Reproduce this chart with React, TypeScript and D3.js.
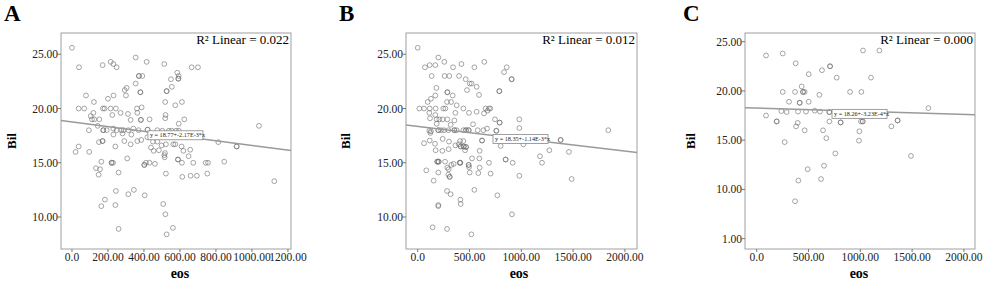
import React from "react";
import * as d3 from "d3";

// ---------- DATA ----------
const panelLetters = ["A", "B", "C"];
const xTicksA = [0, 200, 400, 600, 800, 1000, 1200];
const xTickLabelsA = ["0.0", "200.00", "400.00", "600.00", "800.00", "1000.00", "1200.00"];
const xTicksBC = [0, 500, 1000, 1500, 2000];
const xTickLabelsBC = ["0.0", "500.00", "1000.00", "1500.00", "2000.00"];
const yTicksAB = [10, 15, 20, 25];
const yTickLabelsAB = ["10.00", "15.00", "20.00", "25.00"];
const yTicksC = [5, 10, 15, 20, 25];
const yTickLabelsC = ["1.00", "10.00", "15.00", "20.00", "25.00"];
const r2Labels = ["R² Linear = 0.022", "R² Linear = 0.012", "R² Linear = 0.000"];
const intercepts = [18.77, 18.35, 18.26];
const slopes = [-2.17e-3, -1.14e-3, -3.23e-4];
const eqLabels = ["y = 18.77+-2.17E-3*x", "y = 18.35+-1.14E-3*x", "y = 18.26+-3.23E-4*x"];
const eqLabelX = [422, 727, 727];

const pointsA: [number, number][] = [
  [0, 25.6], [39, 23.8], [170, 24.0], [215, 24.3], [230, 24.1], [248, 23.8], [354, 24.7], [415, 24.3],
  [513, 24.1], [665, 23.8], [700, 23.8], [372, 23.0], [372, 23.0], [391, 23.0], [593, 23.0], [591, 22.75],
  [591, 22.75], [585, 23.3], [354, 22.3], [550, 22.7], [304, 21.9], [293, 21.7], [380, 21.5], [380, 21.5],
  [526, 21.6], [526, 21.6], [555, 22.0], [78, 21.2], [231, 21.2], [300, 21.2], [200, 20.9], [122, 20.6],
  [518, 20.6], [574, 20.3], [611, 20.6], [37, 20.0], [68, 20.0], [172, 20.0], [181, 20.0], [215, 20.0],
  [244, 20.0], [361, 20.0], [387, 20.1], [119, 19.6], [224, 19.4], [270, 19.6], [311, 19.5], [363, 19.6],
  [520, 19.4], [104, 19.3], [111, 19.0], [124, 19.0], [152, 19.0], [326, 18.95], [383, 18.95], [383, 18.95],
  [431, 19.0], [518, 19.1], [593, 18.6], [624, 19.0], [94, 18.0], [143, 18.4], [174, 18.0], [174, 18.0],
  [193, 18.0], [230, 18.15], [248, 18.0], [274, 18.0], [287, 18.0], [313, 18.0], [341, 18.15], [370, 18.0],
  [420, 18.05], [420, 18.05], [474, 18.0], [502, 17.95], [539, 17.95], [554, 17.95], [578, 17.95], [594, 17.95],
  [1039, 18.4], [230, 17.6], [281, 17.7], [291, 17.0], [330, 17.6], [363, 17.0], [385, 17.1], [419, 17.35],
  [150, 16.9], [170, 17.0], [170, 17.0], [241, 16.5], [326, 16.7], [450, 16.95], [474, 16.95], [498, 16.6],
  [522, 16.7], [563, 16.7], [574, 16.7], [609, 16.5], [37, 16.5], [20, 16.0], [96, 16.0], [439, 16.4],
  [454, 16.1], [483, 16.15], [517, 15.9], [513, 15.7], [619, 16.1], [657, 16.2], [813, 16.9], [915, 16.5],
  [915, 16.5], [163, 15.1], [220, 15.0], [220, 15.0], [228, 15.0], [307, 15.4], [402, 14.8], [402, 14.8],
  [411, 15.0], [431, 15.0], [461, 14.9], [515, 15.5], [589, 15.3], [589, 15.3], [611, 15.0], [648, 15.6],
  [674, 15.0], [743, 15.0], [756, 15.0], [846, 15.1], [133, 14.5], [156, 14.4], [148, 13.9], [259, 14.1],
  [522, 14.0], [613, 13.7], [659, 13.8], [694, 13.8], [752, 14.0], [1124, 13.3], [244, 12.4], [313, 12.1],
  [344, 12.5], [404, 12.0], [183, 11.6], [163, 11.0], [241, 11.1], [507, 11.2], [519, 10.25], [259, 8.9],
  [561, 9.0], [526, 8.4],
];

const pointsB: [number, number][] = [
  [0, 25.6], [199, 24.7], [70, 23.8], [116, 24.0], [170, 24.0], [257, 24.3], [341, 23.8], [422, 24.1],
  [547, 23.8], [643, 24.3], [833, 23.35], [859, 23.8], [907, 22.7], [907, 22.7], [135, 23.0], [260, 23.0],
  [305, 23.0], [399, 23.0], [463, 22.7], [502, 22.3], [521, 22.3], [569, 22.0], [476, 21.7], [180, 21.9],
  [170, 21.2], [286, 21.5], [286, 21.5], [338, 21.2], [788, 21.6], [788, 21.6], [592, 21.25], [128, 20.9],
  [96, 20.6], [283, 20.6], [322, 20.6], [376, 20.3], [16, 20.0], [61, 20.0], [116, 20.0], [173, 20.0],
  [247, 20.0], [267, 20.0], [441, 20.0], [656, 20.0], [688, 20.0], [701, 20.0], [112, 19.6], [170, 19.4],
  [364, 19.6], [495, 19.6], [569, 19.7], [640, 19.55], [675, 19.8], [119, 19.1], [183, 19.0], [209, 19.0],
  [241, 19.0], [286, 19.0], [354, 18.9], [746, 19.0], [791, 18.7], [791, 18.7], [981, 19.0], [183, 18.6],
  [318, 18.5], [534, 18.55], [981, 18.2], [669, 18.15], [112, 17.95], [128, 17.9], [199, 18.0], [199, 18.0],
  [225, 18.0], [254, 18.0], [296, 18.0], [354, 18.0], [354, 18.0], [376, 18.0], [441, 18.0], [466, 18.0],
  [466, 18.0], [492, 18.0], [492, 18.0], [579, 18.0], [634, 18.0], [759, 17.95], [759, 17.95], [1840, 18.0],
  [122, 17.75], [241, 17.2], [409, 17.0], [441, 17.0], [621, 17.05], [621, 17.05], [1380, 17.1], [1380, 17.1],
  [1020, 16.7], [61, 16.8], [116, 17.05], [167, 16.75], [302, 16.95], [396, 16.7], [415, 16.5], [415, 16.5],
  [444, 16.5], [444, 16.5], [466, 16.45], [466, 16.45], [173, 16.15], [238, 16.1], [299, 16.25], [364, 16.6],
  [457, 16.15], [598, 16.1], [801, 16.55], [1271, 16.15], [1460, 16.0], [83, 14.3], [189, 15.1], [189, 15.1],
  [202, 15.1], [202, 15.1], [264, 15.1], [325, 14.8], [347, 14.9], [411, 15.0], [411, 15.0], [492, 14.8],
  [492, 14.8], [495, 14.6], [154, 13.35], [199, 14.1], [286, 14.55], [299, 14.4], [405, 15.0], [524, 15.4],
  [595, 15.4], [688, 15.0], [598, 14.55], [849, 15.3], [849, 15.3], [917, 15.0], [1180, 15.6], [1200, 15.0],
  [296, 13.9], [309, 13.7], [309, 13.7], [502, 14.1], [585, 14.05], [704, 14.0], [981, 13.8], [1486, 13.5],
  [283, 12.4], [318, 12.1], [547, 12.5], [412, 11.6], [415, 11.2], [199, 11.1], [199, 11.0], [769, 12.0],
  [910, 10.25], [144, 9.05], [283, 8.9], [518, 8.4],
];

const pointsC: [number, number][] = [
  [90, 23.6], [251, 23.8], [376, 22.8], [708, 22.5], [708, 22.5], [1026, 24.1], [1184, 24.1], [630, 22.1],
  [502, 21.7], [772, 21.35], [1103, 21.35], [434, 20.45], [251, 19.9], [370, 19.9], [447, 19.9], [447, 19.9],
  [463, 19.9], [605, 19.6], [901, 19.9], [1010, 19.9], [312, 18.9], [415, 18.8], [415, 18.8], [502, 18.9],
  [238, 17.95], [289, 17.85], [90, 17.5], [399, 17.9], [476, 17.9], [560, 18.0], [611, 17.9], [701, 17.85],
  [701, 17.85], [1657, 18.25], [193, 16.9], [193, 16.9], [396, 16.75], [380, 16.4], [701, 16.9], [810, 16.8],
  [810, 16.8], [1006, 16.9], [1023, 16.9], [1023, 16.9], [1360, 17.0], [1360, 17.0], [463, 16.0], [640, 16.0],
  [991, 15.9], [1300, 16.4], [270, 14.8], [672, 15.2], [987, 14.95], [759, 13.65], [1489, 13.4], [492, 12.05],
  [650, 12.4], [402, 10.9], [621, 11.05], [370, 8.8],
];

const allPoints = [pointsA, pointsB, pointsC];
const allXTicks = [xTicksA, xTicksBC, xTicksBC];
const allXTickLabels = [xTickLabelsA, xTickLabelsBC, xTickLabelsBC];
const allYTicks = [yTicksAB, yTicksAB, yTicksC];
const allYTickLabels = [yTickLabelsAB, yTickLabelsAB, yTickLabelsC];
const xDomains: [number, number][] = [[-61, 1217], [-113, 2117], [-113, 2107]];
const yDomains: [number, number][] = [[7.05, 26.96], [7.05, 26.96], [3.95, 25.88]];

// ---------- LAYOUT ----------
const W = 1000;
const H = 299;
const frames = [
  { left: 61, right: 291, letterX: 4, bilX: 16, eosX: 180 },
  { left: 406, right: 637, letterX: 339, bilX: 350, eosX: 519 },
  { left: 745, right: 975, letterX: 683, bilX: 695, eosX: 859 },
];
const TOP = 33;
const BOTTOM = 249;
const FONT = "'Liberation Serif', 'Times New Roman', serif";

function Panel({ i }: { i: number }) {
  const f = frames[i];
  const x = d3.scaleLinear().domain(xDomains[i]).range([f.left, f.right]);
  const y = d3.scaleLinear().domain(yDomains[i]).range([BOTTOM, TOP]);
  const line = d3
    .line<number>()
    .x((d) => x(d))
    .y((d) => y(intercepts[i] + slopes[i] * d));
  const lineData = xDomains[i];
  const ex = eqLabelX[i];
  const ey = y(intercepts[i] + slopes[i] * ex);
  const eqW = 55;
  const eqH = 9;
  return (
    <g>
      <text x={f.letterX} y={21} fontFamily={FONT} fontWeight="bold" fontSize={23} fill="#000">
        {panelLetters[i]}
      </text>
      <rect x={f.left} y={TOP} width={f.right - f.left} height={BOTTOM - TOP} fill="#fff" stroke="#a0a0a0" strokeWidth={1} />
      {allYTicks[i].map((t, k) => (
        <g key={"y" + k}>
          <line x1={f.left - 3} x2={f.left} y1={y(t)} y2={y(t)} stroke="#777" strokeWidth={1} />
          <text x={f.left - 3} y={y(t) + 4} textAnchor="end" fontFamily={FONT} fontSize={11.5} fill="#222">
            {allYTickLabels[i][k]}
          </text>
        </g>
      ))}
      {allXTicks[i].map((t, k) => (
        <g key={"x" + k}>
          <line x1={x(t)} x2={x(t)} y1={BOTTOM} y2={BOTTOM + 3} stroke="#777" strokeWidth={1} />
          <text x={x(t)} y={261} textAnchor="middle" fontFamily={FONT} fontSize={11.5} fill="#222">
            {allXTickLabels[i][k]}
          </text>
        </g>
      ))}
      {allPoints[i].map((p, k) => (
        <circle key={k} cx={x(p[0])} cy={y(p[1])} r={2.4} fill="none" stroke="#6a6a6a" strokeOpacity={0.6} strokeWidth={1} />
      ))}
      <path d={line(lineData) || ""} stroke="#9a9a9a" strokeWidth={1.5} fill="none" />
      <rect x={x(ex)} y={ey - 1} width={eqW} height={eqH} fill="#fff" stroke="#888" strokeWidth={0.8} />
      <text x={x(ex) + 2} y={ey + 5.5} fontFamily={FONT} fontSize={6.2} fill="#222">
        {eqLabels[i]}
      </text>
      <text x={f.right - 2} y={44} textAnchor="end" fontFamily={FONT} fontSize={13} fill="#000">
        {r2Labels[i]}
      </text>
      <text
        transform={`translate(${f.bilX},${141}) rotate(-90)`}
        textAnchor="middle"
        fontFamily={FONT}
        fontWeight="bold"
        fontSize={13}
        fill="#000"
      >
        Bil
      </text>
      <text x={f.eosX} y={278} textAnchor="middle" fontFamily={FONT} fontWeight="bold" fontSize={14} fill="#000">
        eos
      </text>
    </g>
  );
}

export default function App() {
  return (
    <svg width={W} height={H} style={{ position: "absolute", left: 0, top: 0, background: "#fff" }}>
      <rect width={W} height={H} fill="#fff" />
      {[0, 1, 2].map((i) => (
        <Panel key={i} i={i} />
      ))}
    </svg>
  );
}
